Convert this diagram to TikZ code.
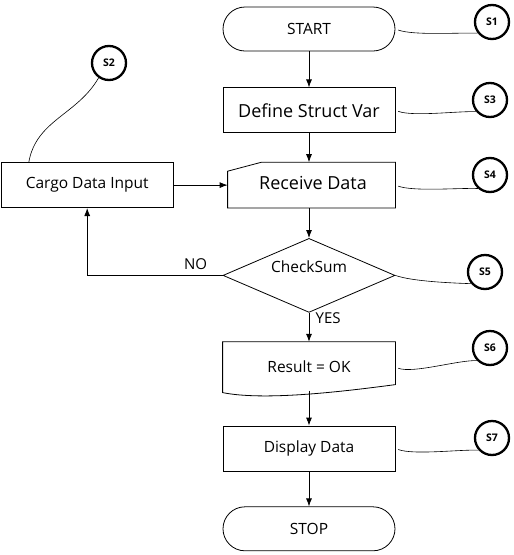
\documentclass[tikz,border=0pt]{standalone}
\usepackage{fontspec}
\setmainfont{Open Sans}
\usetikzlibrary{shapes.geometric, arrows.meta, positioning}

\begin{document}
\begin{tikzpicture}[x=1pt, y=-1pt, node distance=29pt, >={Latex[length=8pt, width=6pt]}, line width=0.8pt]
        \tikzstyle{term} = [rectangle, draw, rounded corners=22pt, minimum width=172pt, minimum height=44pt, font=\fontsize{15.5}{18}\selectfont]
        \tikzstyle{block} = [rectangle, draw, minimum width=172pt, minimum height=45pt, font=\fontsize{15.5}{18}\selectfont]
        \tikzstyle{shaped} = [rectangle, minimum width=172pt, font=\fontsize{15.5}{18}\selectfont]
        \tikzstyle{decision} = [diamond, draw, aspect=2.3, minimum width=172pt, minimum height=74pt, inner sep=0pt, font=\fontsize{15.5}{18}\selectfont]
        \tikzstyle{tag} = [circle, draw, line width=2.3pt, minimum size=34pt, inner sep=0pt, font=\bfseries\fontsize{10.5}{12}\selectfont]
        \tikzstyle{lead} = [line width=0.6pt, shorten <=3pt]
        \tikzstyle{answer} = [font=\fontsize{15}{18}\selectfont]

        \useasboundingbox (0,0) rectangle (514,555);

        % main column
        \node [term] (start) at (309,29) {START};
        \node [block, below=36pt of start, font=\fontsize{18}{21}\selectfont] (define) {Define Struct Var};
        \node [shaped, below=of define, minimum height=45pt, font=\fontsize{18}{21}\selectfont] (receive) {\hspace*{8pt}\raisebox{5pt}{Receive Data}};
        \node [decision, below=30pt of receive] (check) {\raisebox{17pt}{CheckSum}};
        \node [shaped, below=of check, minimum height=50pt] (result) {\raisebox{2pt}{Result = OK}};
        \node [block, below=33pt of result] (display) {Display Data};
        \node [term, below=35pt of display] (stop) {STOP};
        \node [block, left=49pt of receive] (cargo) {Cargo Data Input};

        % manual input and document outlines
        \draw ([xshift=5pt]receive.south west) -- ([xshift=5pt, yshift=-9pt]receive.north west)
              -- ([xshift=39pt]receive.north west) -- (receive.north east) -- (receive.south east) -- cycle;
        \draw (result.north west) -- (result.north east) -- ([yshift=8pt]result.south east)
              .. controls +(-60,8) and +(40,8) .. (result.south west) -- cycle;

        % step tags
        \node [tag] (s1) at (492,22) {S1};
        \node [tag] (s2) at (109,63) {S2};
        \node [tag] (s3) at (490,100) {S3};
        \node [tag] (s4) at (490,175) {S4};
        \node [tag] (s5) at (485,272) {S5};
        \node [tag] (s6) at (490,348) {S6};
        \node [tag] (s7) at (492,438) {S7};

        \draw [lead] (start.east) to[out=-20, in=178, looseness=0.6] (s1.218);
        \draw [lead] (define.east) to[out=-20, in=178, looseness=0.6] (s3.220);
        \draw [lead] (receive.east) to[out=-20, in=178, looseness=0.6] (s4.228);
        \draw [lead, shorten <=0pt] (check.east) to[out=-20, in=178, looseness=0.6] (s5.220);
        \draw [lead] (result.east) to[out=-20, in=178, looseness=0.6] (s6.224);
        \draw [lead] (display.east) to[out=-20, in=178, looseness=0.6] (s7.222);
        \draw [lead, shorten <=0pt] (s2.235) to[out=240, in=80] ([xshift=28pt]cargo.north west);

        % flow
        \draw [->] (start) -- (define);
        \draw [->] (define) -- (receive);
        \draw [->] (receive) -- (check);
        \draw [->] (check) -- node [answer, pos=0.2, right=3pt] {YES} (result);
        \draw [->] ([yshift=2pt]result.south) -- (display);
        \draw [->] (display) -- (stop);
        \draw [->] (cargo.east) -- ([xshift=5pt]receive.west);
        \draw [->] (check.west) -| node [answer, pos=0.1, above=2pt] {NO} (cargo.south);
\end{tikzpicture}
\end{document}
